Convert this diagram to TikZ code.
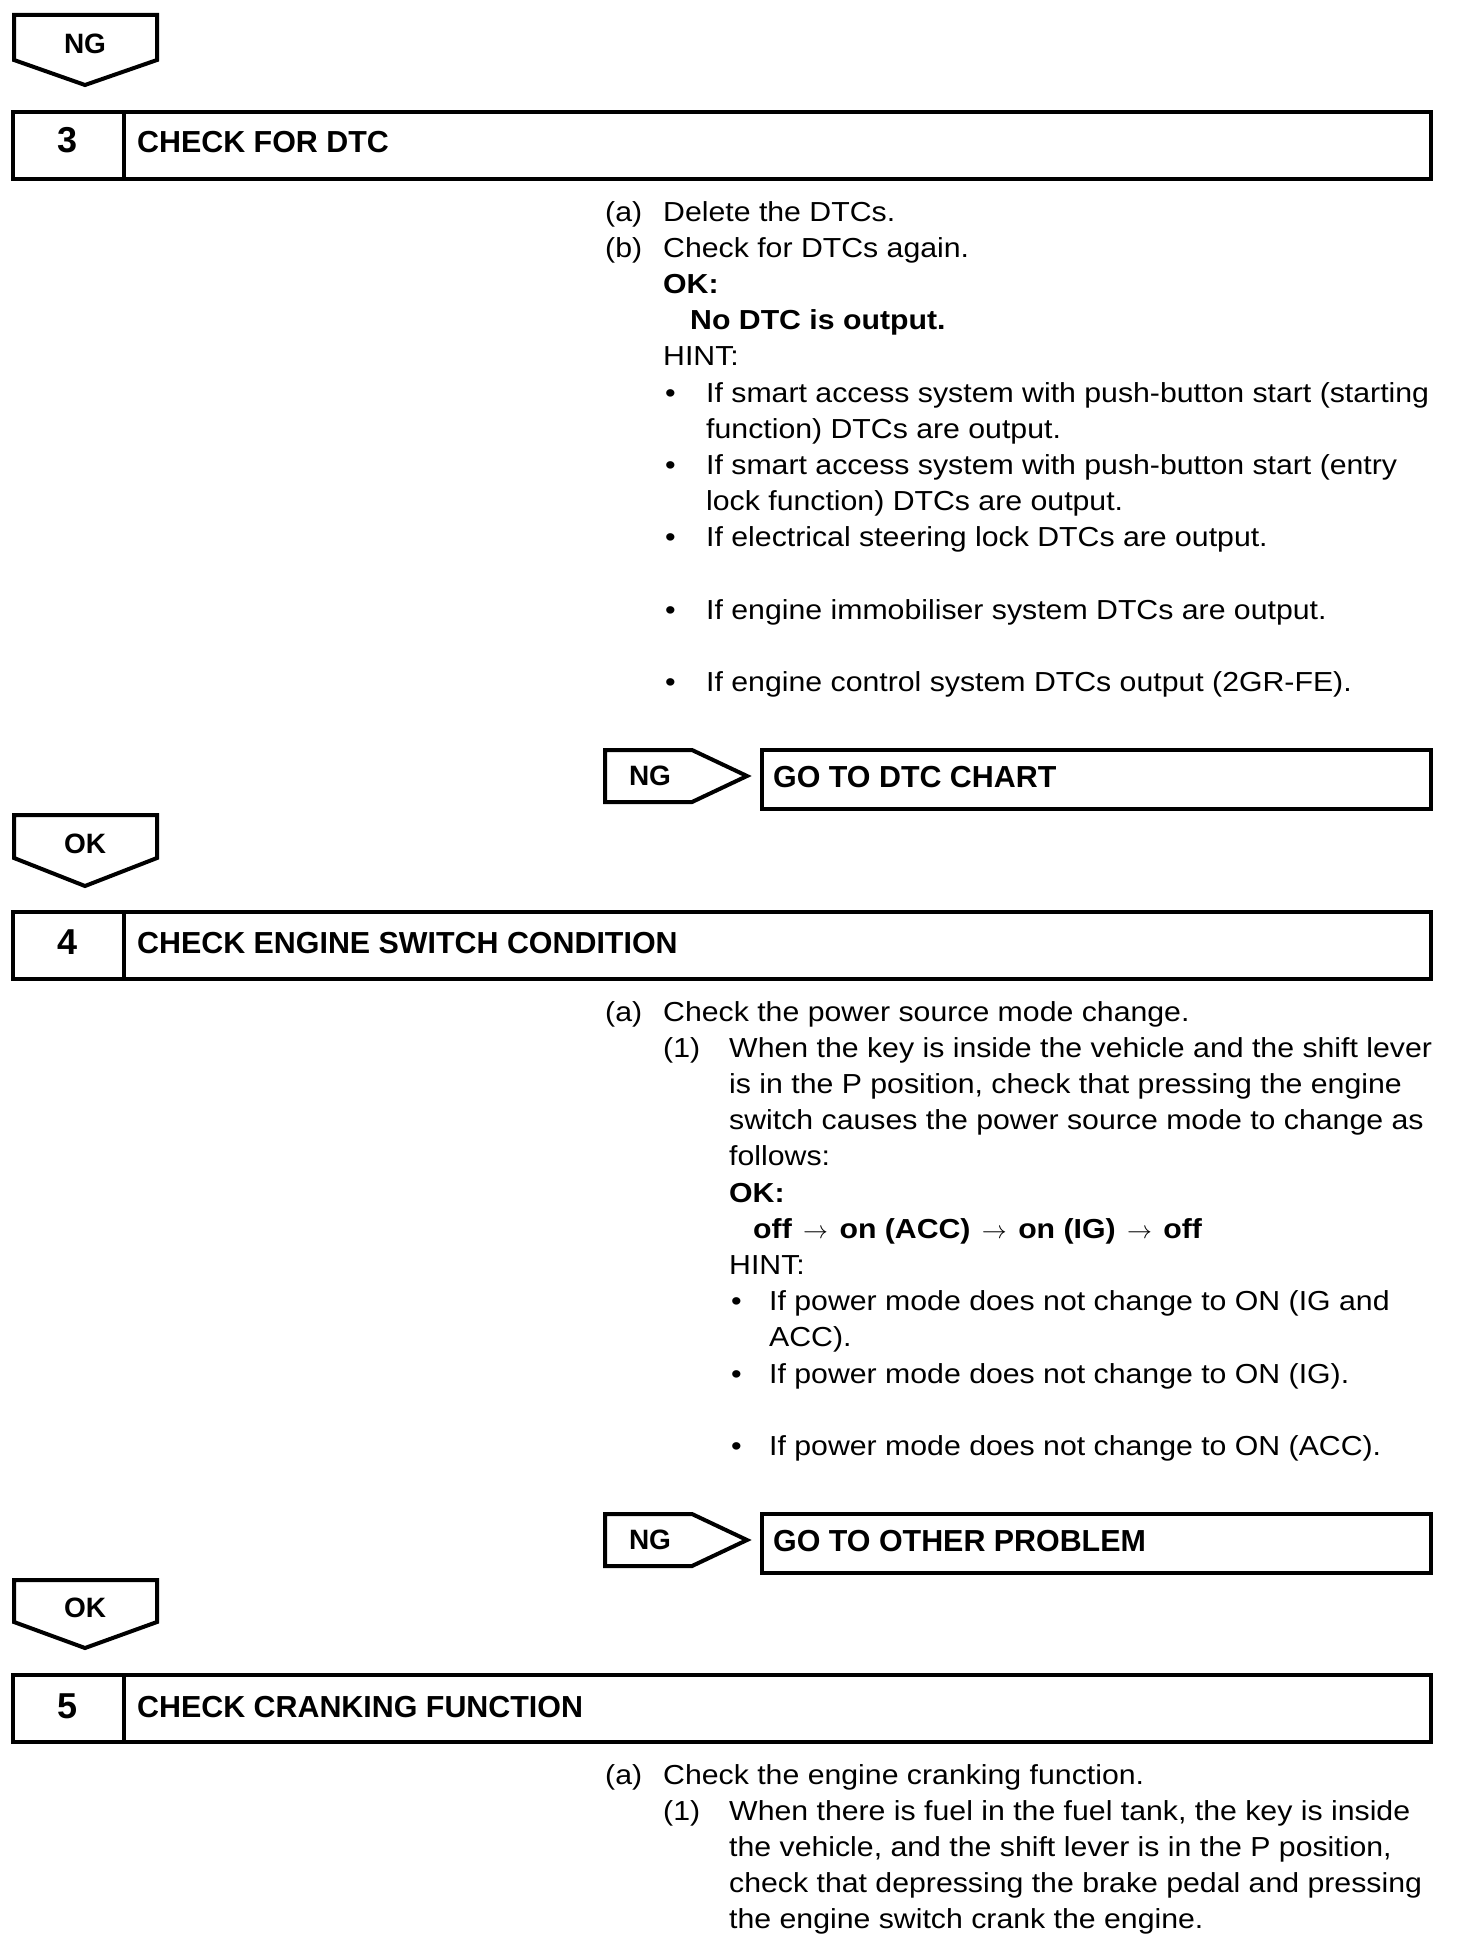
\documentclass[tikz,border=0pt]{standalone}
\usepackage{fontspec}
\setmainfont{Liberation Sans}[FakeStretch=1.1]
\newfontfamily\hdr{Liberation Sans}
\newcommand{\myarr}{\hspace{3pt}\ensuremath{\rightarrow}\hspace{3pt}}
\begin{document}
\begin{tikzpicture}[x=1pt,y=-1pt,
  body/.style={anchor=base west, inner sep=0pt, font=\fontsize{27.5}{32}\selectfont},
  bbold/.style={anchor=base west, inner sep=0pt, font=\fontsize{27.5}{32}\selectfont\bfseries},
  hd/.style={anchor=base west, inner sep=0pt, font=\hdr\fontsize{30.4}{36}\selectfont\bfseries},
  num/.style={anchor=base, inner sep=0pt, font=\hdr\fontsize{36}{40}\selectfont\bfseries},
  tablbl/.style={anchor=base, inner sep=0pt, font=\hdr\fontsize{28}{32}\selectfont\bfseries},
  ln/.style={line width=4pt, line join=miter}]
\useasboundingbox (0,0) rectangle (1456,1948);
\fill[white] (0,0) rectangle (1456,1948);

% ---------- NG tab ----------
\draw[ln] (14,15) -- (157,15) -- (157,60) -- (85,85) -- (14,60) -- cycle;
\node[tablbl] (tabng) at (85,54) {NG};

% ---------- Step 3 ----------
\draw[ln] (13,112) rectangle (1431,179);
\draw[ln] (124,112) -- (124,179);
\node[num] (n3) at (68,153) {3};
\node[hd] (h3) at (137,152) {CHECK FOR DTC};

\node[body] (s3a) at (605,221) {(a)};
\node[body] (s3at) at (663,221) {Delete the DTCs.};
\node[body] (s3b) at (605,257.2) {(b)};
\node[body] (s3bt) at (663,257.2) {Check for DTCs again.};
\node[bbold] (s3ok) at (663,293.4) {OK:};
\node[bbold] (s3okt) at (690,329.6) {No DTC is output.};
\node[body] (s3hint) at (663,365.8) {HINT:};
\node[body] (s3b1) at (665,402) {•};
\node[body] (s3b1t) at (706,402) {If smart access system with push-button start (starting};
\node[body] (s3b1u) at (706,438.2) {function) DTCs are output.};
\node[body] (s3b2) at (665,474.4) {•};
\node[body] (s3b2t) at (706,474.4) {If smart access system with push-button start (entry};
\node[body] (s3b2u) at (706,510.6) {lock function) DTCs are output.};
\node[body] (s3b3) at (665,546.8) {•};
\node[body] (s3b3t) at (706,546.8) {If electrical steering lock DTCs are output.};
\node[body] (s3b4) at (665,619.2) {•};
\node[body] (s3b4t) at (706,619.2) {If engine immobiliser system DTCs are output.};
\node[body] (s3b5) at (665,691.6) {•};
\node[body] (s3b5t) at (706,691.6) {If engine control system DTCs output (2GR-FE).};

\draw[ln] (605,750) -- (692,750) -- (747,776) -- (692,802) -- (605,802) -- cycle;
\node[tablbl] (ng3) at (650,785) {NG};
\draw[ln] (762,750) rectangle (1431,809);
\node[hd] (go3) at (773,787) {GO TO DTC CHART};

% ---------- OK tab ----------
\draw[ln] (14,815) -- (157,815) -- (157,858) -- (85,886) -- (14,858) -- cycle;
\node[tablbl] (tabok1) at (85,853) {OK};

% ---------- Step 4 ----------
\draw[ln] (13,912) rectangle (1431,979);
\draw[ln] (124,912) -- (124,979);
\node[num] (n4) at (68,954) {4};
\node[hd] (h4) at (137,953) {CHECK ENGINE SWITCH CONDITION};

\node[body] (s4a) at (605,1021) {(a)};
\node[body] (s4at) at (663,1021) {Check the power source mode change.};
\node[body] (s4n1) at (663,1057.2) {(1)};
\node[body] (s4n1t) at (729,1057.2) {When the key is inside the vehicle and the shift lever};
\node[body] (s4n1u) at (729,1093.4) {is in the P position, check that pressing the engine};
\node[body] (s4n1v) at (729,1129.6) {switch causes the power source mode to change as};
\node[body] (s4n1w) at (729,1165.8) {follows:};
\node[bbold] (s4ok) at (729,1202) {OK:};
\node[bbold] (s4okt) at (753,1238.2) {off \myarr{} on (ACC) \myarr{} on (IG) \myarr{} off};
\node[body] (s4hint) at (729,1274.4) {HINT:};
\node[body] (s4b1) at (731,1310.6) {•};
\node[body] (s4b1t) at (769,1310.6) {If power mode does not change to ON (IG and};
\node[body] (s4b1u) at (769,1346.8) {ACC).};
\node[body] (s4b2) at (731,1383) {•};
\node[body] (s4b2t) at (769,1383) {If power mode does not change to ON (IG).};
\node[body] (s4b3) at (731,1455.4) {•};
\node[body] (s4b3t) at (769,1455.4) {If power mode does not change to ON (ACC).};

\draw[ln] (605,1514) -- (692,1514) -- (747,1540) -- (692,1566) -- (605,1566) -- cycle;
\node[tablbl] (ng4) at (650,1549) {NG};
\draw[ln] (762,1514) rectangle (1431,1573);
\node[hd] (go4) at (773,1551) {GO TO OTHER PROBLEM};

% ---------- OK tab 2 ----------
\draw[ln] (14,1580) -- (157,1580) -- (157,1622) -- (85,1648) -- (14,1622) -- cycle;
\node[tablbl] (tabok2) at (85,1617) {OK};

% ---------- Step 5 ----------
\draw[ln] (13,1675) rectangle (1431,1742);
\draw[ln] (124,1675) -- (124,1742);
\node[num] (n5) at (68,1718) {5};
\node[hd] (h5) at (137,1717) {CHECK CRANKING FUNCTION};

\node[body] (s5a) at (605,1784) {(a)};
\node[body] (s5at) at (663,1784) {Check the engine cranking function.};
\node[body] (s5n1) at (663,1820.2) {(1)};
\node[body] (s5n1t) at (729,1820.2) {When there is fuel in the fuel tank, the key is inside};
\node[body] (s5n1u) at (729,1856.4) {the vehicle, and the shift lever is in the P position,};
\node[body] (s5n1v) at (729,1892.6) {check that depressing the brake pedal and pressing};
\node[body] (s5n1w) at (729,1928.8) {the engine switch crank the engine.};
\end{tikzpicture}
\end{document}
